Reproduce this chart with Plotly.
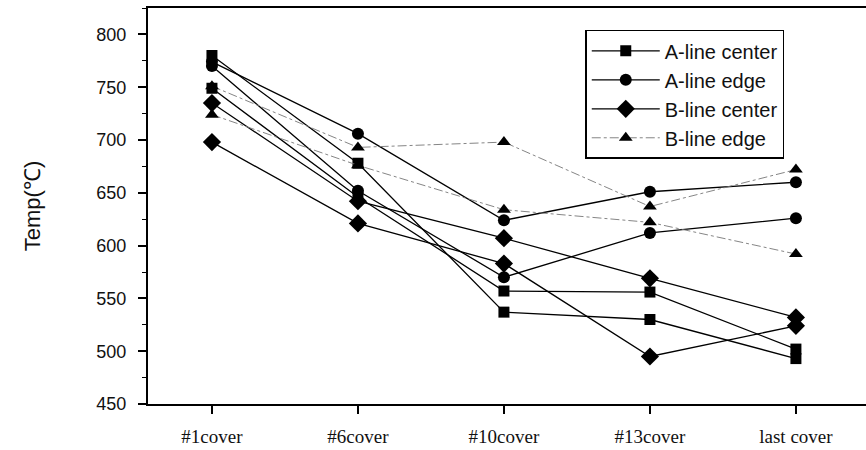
import plotly.graph_objects as go

categories = ["#1cover", "#6cover", "#10cover", "#13cover", "last cover"]

a_center_1 = [780, 678, 537, 530, 493]
a_center_2 = [749, 646, 557, 556, 502]
a_edge_1 = [774, 706, 624, 651, 660]
a_edge_2 = [770, 652, 570, 612, 626]
b_center_1 = [735, 642, 607, 569, 532]
b_center_2 = [698, 621, 583, 495, 524]
b_edge_1 = [751, 693, 698, 637, 672]
b_edge_2 = [724, 676, 634, 622, 592]

y_ticks = [450, 500, 550, 600, 650, 700, 750, 800]

series = [
    ("A-line center", [a_center_1, a_center_2], "square", "solid", "black", 1.3, 11),
    ("A-line edge", [a_edge_1, a_edge_2], "circle", "solid", "black", 1.3, 12),
    ("B-line center", [b_center_1, b_center_2], "diamond", "solid", "black", 1.3, 14),
    ("B-line edge", [b_edge_1, b_edge_2], "triangle-up", "dashdot", "#777777", 0.9, 12),
]

xs = list(range(len(categories)))
fig = go.Figure()
for name, groups, sym, dash, col, w, sz in series:
    for i, vals in enumerate(groups):
        fig.add_trace(go.Scatter(
            x=xs, y=vals, mode="lines+markers", name=name,
            showlegend=(i == 0), legendgroup=name,
            line=dict(color=col, width=w, dash=dash),
            marker=dict(symbol=sym, size=sz, color="black"),
        ))

fig.update_layout(
    width=866, height=450,
    margin=dict(l=148, r=0, t=8, b=46),
    plot_bgcolor="white", paper_bgcolor="white",
    font=dict(family="Liberation Sans, Arial", size=15, color="#111"),
    legend=dict(
        x=0.609, y=0.945, xanchor="left", yanchor="top",
        bgcolor="white", bordercolor="black", borderwidth=1.5,
        font=dict(size=20, family="Liberation Sans, Arial", color="#111"),
        itemwidth=68, tracegroupgap=0,
    ),
)
fig.update_xaxes(
    range=[-0.438, 4.48], tickvals=xs, ticktext=categories,
    showline=True, linecolor="black", linewidth=2, mirror=True,
    ticks="outside", ticklen=8, tickcolor="black", tickwidth=1.5,
    showgrid=False, zeroline=False, ticklabelstandoff=6,
    tickfont=dict(family="Liberation Serif, Times New Roman", size=19, color="#111"),
)
fig.update_yaxes(
    range=[450, 825], tickvals=y_ticks,
    showline=True, linecolor="black", linewidth=2, mirror=False,
    ticks="outside", ticklen=8, tickcolor="black", tickwidth=1.5,
    minor=dict(dtick=25, ticks="outside", ticklen=4, tickcolor="black", tickwidth=1),
    showgrid=False, zeroline=False, ticklabelstandoff=8,
    tickfont=dict(family="Liberation Sans, Arial", size=18, color="#111"),
    title=dict(text="Temp(℃)", font=dict(size=22, family="Liberation Sans, Arial", color="#111"), standoff=50),
)

fig.write_html("out.html")
